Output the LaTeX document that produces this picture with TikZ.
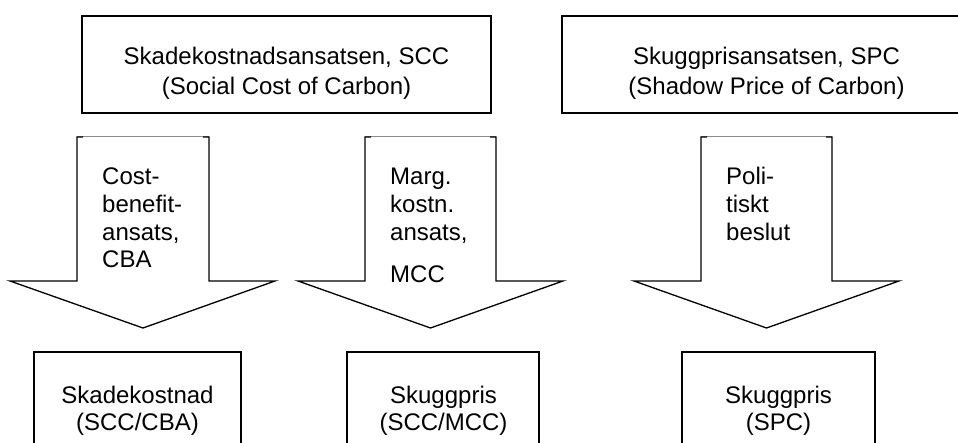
\documentclass[tikz,border=0pt]{standalone}
\usepackage{fontspec}
\setmainfont{Liberation Sans}
\begin{document}
\begin{tikzpicture}[x=1pt,y=-1pt,
  box/.style={draw, line width=1.3pt, inner sep=0pt},
  lbl/.style={font=\fontsize{24}{27.5}\selectfont, inner sep=0pt, anchor=base},
  lblw/.style={lbl, anchor=base west},
  fatline/.style={draw, line width=1.3pt, line join=miter},
  shafttop/.style={draw=black!45, line width=0.6pt},
]
\useasboundingbox (0,0) rectangle (958,443);
\clip (0,0) rectangle (958,443);

% upper approach boxes
\node[box, minimum width=409pt, minimum height=97pt] (scc) at (286.5,64.5) {};
\node[lbl] (scc1) at (286.5,65) {Skadekostnadsansatsen, SCC};
\node[lbl] (scc2) at (286.5,95) {(Social Cost of Carbon)};

\node[box, minimum width=413pt, minimum height=97pt] (spc) at (768.5,64.5) {};
\node[lbl] (spc1) at (766.5,65) {Skuggprisansatsen, SPC};
\node[lbl] (spc2) at (766.5,95) {(Shadow Price of Carbon)};

% block arrows: shaft left/right, wing left/right, centre
\foreach \sl/\sr/\wl/\wr/\c in {77/209/10/275/143, 365/496/298/563/430.5, 701/832/634/899/766.5}{
  \draw[shafttop] (\sl,136) -- (\sr,136);
  \draw[fatline] (\sl+6,137) -- (\sl,137) -- (\sl,281) -- (\wl,281) -- (\c,328)
        -- (\wr,281) -- (\sr,281) -- (\sr,137) -- (\sr-6,137);
}

% arrow labels
\node[lblw] (a1) at (102,185) {Cost-};
\node[lblw] (a2) at (102,213) {benefit-};
\node[lblw] (a3) at (102,241) {ansats,};
\node[lblw] (a4) at (102,268) {CBA};

\node[lblw] (b1) at (390,185) {Marg.};
\node[lblw] (b2) at (390,213) {kostn.};
\node[lblw] (b3) at (390,241) {ansats,};
\node[lblw] (b4) at (390,283) {MCC};

\node[lblw] (c1) at (726,185) {Poli-};
\node[lblw] (c2) at (726,213) {tiskt};
\node[lblw] (c3) at (726,241) {beslut};

% result boxes
\node[box, minimum width=207pt, minimum height=118pt] (ra) at (137.5,411) {};
\node[lbl] (ra1) at (137.5,403) {Skadekostnad};
\node[lbl] (ra2) at (137.5,430) {(SCC/CBA)};

\node[box, minimum width=192pt, minimum height=118pt] (rb) at (443,411) {};
\node[lbl] (rb1) at (443.5,403) {Skuggpris};
\node[lbl] (rb2) at (443.5,430) {(SCC/MCC)};

\node[box, minimum width=193pt, minimum height=118pt] (rc) at (778.5,411) {};
\node[lbl] (rc1) at (778.5,403) {Skuggpris};
\node[lbl] (rc2) at (778.5,430) {(SPC)};
\end{tikzpicture}
\end{document}
